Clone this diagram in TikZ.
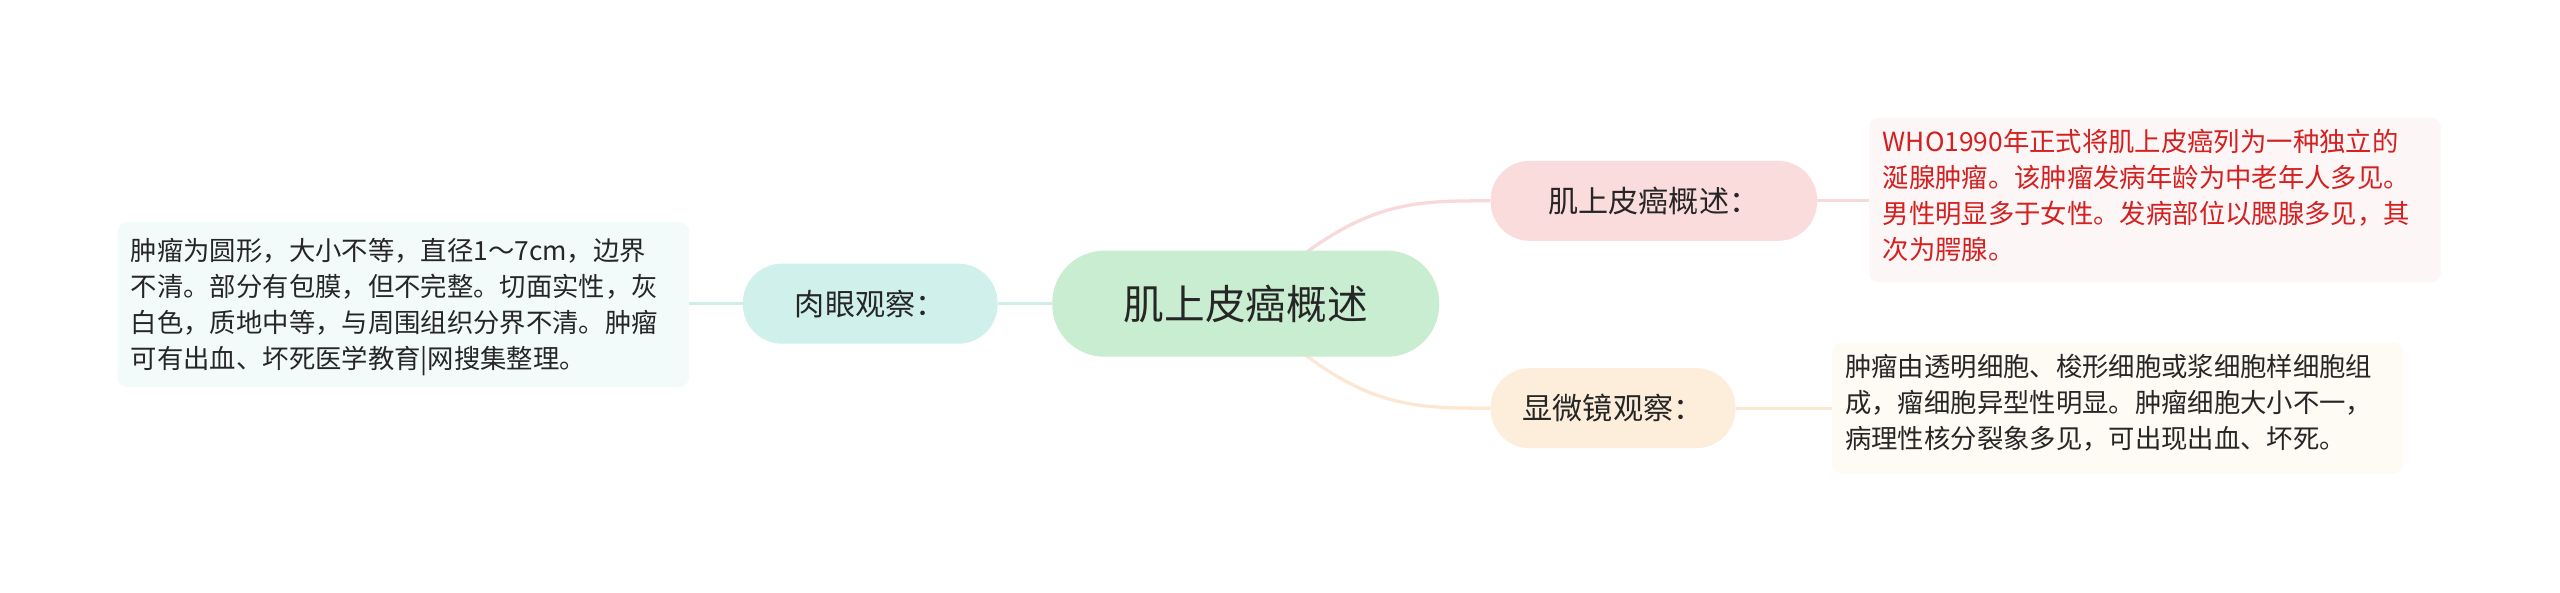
\documentclass[tikz,border=0pt]{standalone}
\usepackage{fontspec}
\setmainfont{Noto Sans CJK SC}
\usetikzlibrary{backgrounds}
\begin{document}
\begin{tikzpicture}[x=1bp,y=-1bp,
  pill/.style={rounded corners=24bp,inner sep=0pt,minimum height=49bp,text=black!85},
  txt/.style={rounded corners=6bp,align=left,anchor=north west,inner sep=0pt,font=\fontsize{16.2}{22}\selectfont,text=black!85},
  conn/.style={line width=2bp}]
\definecolor{cg}{HTML}{C8EDD0}\definecolor{ct}{HTML}{CFF0EB}\definecolor{cp}{HTML}{FBDCDD}\definecolor{co}{HTML}{FDEEDC}
\definecolor{lp}{HTML}{F8D9DA}\definecolor{lo}{HTML}{FCE8D2}\definecolor{lt}{HTML}{CDEEE9}
\definecolor{b1}{HTML}{F3FAFA}\definecolor{b2}{HTML}{FDF6F6}\definecolor{b3}{HTML}{FEFAF4}\definecolor{red1}{HTML}{D42020}
\useasboundingbox (0,0) rectangle (1568,363);
\node[txt] (t1) at (80,146) {肿瘤为圆形，大小不等，直径1～7cm，边界\\不清。部分有包膜，但不完整。切面实性，灰\\白色，质地中等，与周围组织分界不清。肿瘤\\可有出血、坏死医学教育|网搜集整理。};
\node[txt,text=red1] (t2) at (1153,79) {WHO1990年正式将肌上皮癌列为一种独立的\\涎腺肿瘤。该肿瘤发病年龄为中老年人多见。\\男性明显多于女性。发病部位以腮腺多见，其\\次为腭腺。};
\node[txt] (t3) at (1130,217) {肿瘤由透明细胞、梭形细胞或浆细胞样细胞组\\成，瘤细胞异型性明显。肿瘤细胞大小不一，\\病理性核分裂象多见，可出现出血、坏死。};
\coordinate (L) at (422,186);
\coordinate (R1) at (1145,123);
\coordinate (R2) at (1122,250);
\node[pill,fill=cg,minimum width=237bp,minimum height=65bp,rounded corners=32bp,font=\fontsize{25}{28}\selectfont] (c) at (763,186) {肌上皮癌概述};
\node[pill,fill=ct,minimum width=156bp,font=\fontsize{18.5}{22}\selectfont] (a) at (533,186) {肉眼观察：};
\node[pill,fill=cp,minimum width=200bp,font=\fontsize{18.5}{22}\selectfont] (b) at (1013,123) {肌上皮癌概述：};
\node[pill,fill=co,minimum width=150bp,font=\fontsize{18.5}{22}\selectfont] (d) at (988,250) {显微镜观察：};
\begin{scope}[on background layer]
\fill[white] (0,0) rectangle (1568,363);
\fill[rounded corners=6bp,b1] (72,136) rectangle (422,237);
\fill[rounded corners=6bp,b2] (1145,72) rectangle (1495,173);
\fill[rounded corners=6bp,b3] (1122,210) rectangle (1472,290);
\draw[conn,lt] (c.west) -- (a.east);
\draw[conn,lt] (a.west) -- (L);
\draw[conn,lp] (b.east) -- (R1);
\draw[conn,lo] (d.east) -- (R2);
\draw[conn,lp] (c.center) .. controls (830,123) and (860,123) .. (b.west);
\draw[conn,lo] (c.center) .. controls (830,250) and (860,250) .. (d.west);
\end{scope}
\end{tikzpicture}
\end{document}
